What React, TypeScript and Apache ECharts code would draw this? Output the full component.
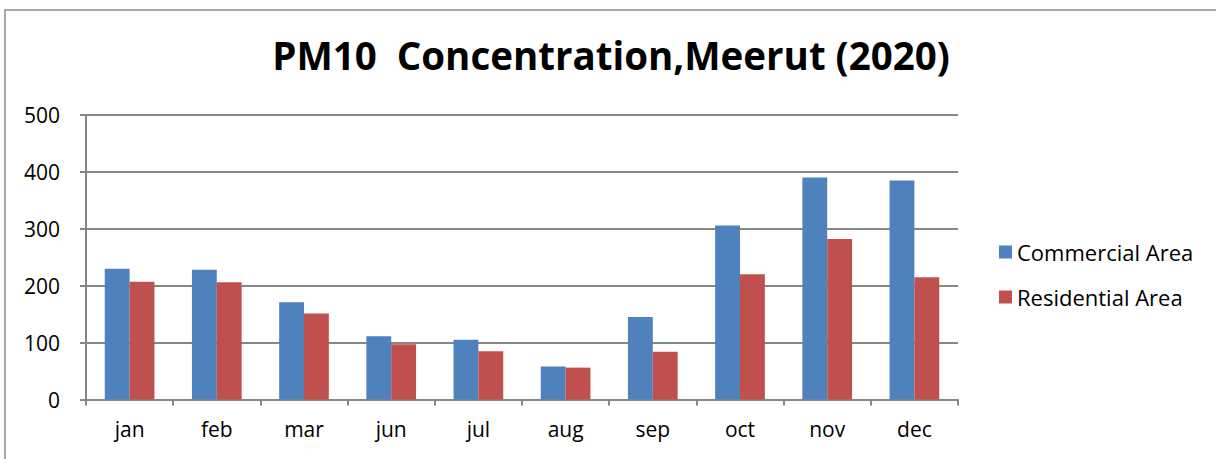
import React, { useEffect, useRef } from "react";
import * as echarts from "echarts";

const months = ["jan", "feb", "mar", "jun", "jul", "aug", "sep", "oct", "nov", "dec"];
const commercial = [230, 228, 171, 111, 105, 58, 145, 306, 390, 385];
const residential = [207, 206, 151, 97, 85, 56, 84, 220, 282, 215];
const seriesNames = ["Commercial Area", "Residential Area"];
const titleText = "PM10  Concentration,Meerut (2020)";

export default function App() {
  const ref = useRef<HTMLDivElement>(null);
  useEffect(() => {
    const chart = echarts.init(ref.current!, undefined, { renderer: "svg" });
    const font = "'Open Sans', Lato, sans-serif";
    chart.setOption({
      animation: false,
      backgroundColor: "#ffffff",
      title: {
        text: titleText,
        left: 606,
        textAlign: "center",
        top: 30,
        textStyle: { fontFamily: font, fontWeight: "bold", fontSize: 38.5, color: "#000" },
      },
      legend: {
        orient: "vertical",
        left: 994,
        top: 236,
        itemWidth: 13,
        itemHeight: 13,
        itemGap: 23,
        itemTextGap: 6,
        icon: "rect",
        textStyle: { fontFamily: font, fontSize: 22, color: "#000" },
        data: seriesNames,
      },
      grid: { left: 86, top: 115, width: 872, height: 284.5, containLabel: false },
      graphic: [
        {
          type: "rect",
          shape: { x: 5, y: 10, width: 1400, height: 600 },
          style: { fill: "none", stroke: "#8c8c8c", lineWidth: 1.5 },
          silent: true,
        },
      ],
      xAxis: {
        type: "category",
        data: months,
        axisLine: { lineStyle: { color: "#868686", width: 2 } },
        axisTick: { show: true, length: 6, alignWithLabel: false, lineStyle: { color: "#868686", width: 2 } },
        axisLabel: { fontFamily: font, fontSize: 21, color: "#000", margin: 19 },
      },
      yAxis: {
        type: "value",
        min: 0,
        max: 500,
        interval: 100,
        axisLine: { show: true, lineStyle: { color: "#868686", width: 2 } },
        axisTick: { show: true, length: 6, lineStyle: { color: "#868686", width: 2 } },
        splitLine: { lineStyle: { color: "#868686", width: 2 } },
        axisLabel: { fontFamily: font, fontSize: 21, color: "#000", margin: 26 },
      },
      series: [
        {
          name: seriesNames[0],
          type: "bar",
          data: commercial,
          itemStyle: { color: "#4F81BD" },
          barGap: "0%",
          barCategoryGap: "43%",
        },
        {
          name: seriesNames[1],
          type: "bar",
          data: residential,
          itemStyle: { color: "#C0504D" },
          barGap: "0%",
          barCategoryGap: "43%",
        },
      ],
    });
    return () => chart.dispose();
  }, []);
  return (
    <div
      ref={ref}
      style={{ position: "fixed", left: 0, top: 0, width: 1216, height: 459 }}
    />
  );
}
